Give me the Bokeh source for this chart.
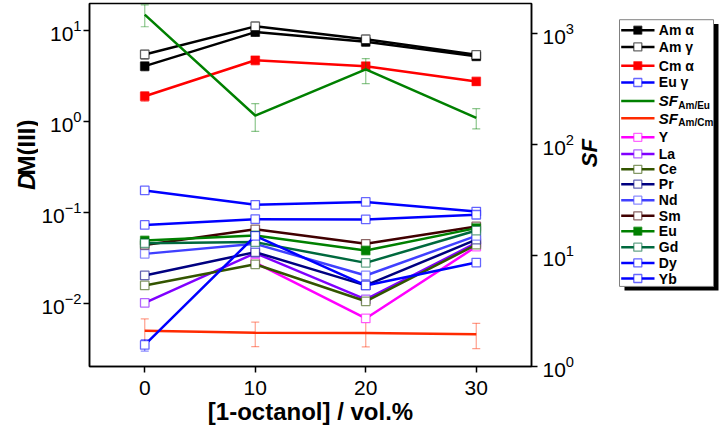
import math
from bokeh.plotting import figure
from bokeh.models import Range1d, LogScale, LogAxis, FixedTicker
from bokeh.layouts import row
from bokeh.embed import file_html
from bokeh.resources import INLINE
from bokeh.core.properties import value

NaN = float("nan")

# ---------------- data ----------------
vol = [0, 10, 20, 30]
x_ticks = [0, 10, 20, 30]
d_ticks = [0.01, 0.1, 1, 10]
sf_ticks = [1, 10, 100, 1000]

am_alpha = [4.05, 9.6, 7.5, 5.2]
am_alpha_err = [0.45, 1.0, 0.8, 0.5]
am_gamma = [5.45, 11.1, 8.0, 5.4]
am_gamma_err = [0.6, 1.3, 0.9, 0.5]
cm_alpha = [1.89, 4.7, 4.05, 2.75]
cm_alpha_err = [0.22, 0.5, 0.4, 0.25]
eu_gamma = [0.174, 0.121, 0.130, 0.102]
eu_gamma_err = [0.012, 0.008, 0.009, 0.009]
sf_am_eu = [1480, 182, 474, 174]
sf_am_eu_err = [330, 51, 120, 36]
sf_am_cm = [2.10, 2.01, 2.00, 1.95]
sf_am_cm_err = [0.58, 0.50, 0.50, 0.50]
d_y = [NaN, 0.028, 0.0068, 0.042]
d_y_err = [NaN, 0.002, 0.0006, 0.003]
d_la = [0.0101, 0.0355, 0.011, 0.046]
d_la_err = [0.0008, 0.0025, 0.0009, 0.003]
d_ce = [0.0157, 0.0268, 0.0105, 0.044]
d_ce_err = [0.0012, 0.002, 0.0008, 0.003]
d_pr = [0.0202, 0.0365, 0.0157, 0.050]
d_pr_err = [0.0015, 0.0025, 0.0012, 0.0035]
d_nd = [0.0349, 0.045, 0.0202, 0.055]
d_nd_err = [0.0025, 0.003, 0.0015, 0.004]
d_sm = [0.0438, 0.065, 0.045, 0.070]
d_sm_err = [0.003, 0.0045, 0.003, 0.005]
d_eu = [0.049, 0.0556, 0.038, 0.067]
d_eu_err = [0.0035, 0.004, 0.003, 0.005]
d_gd = [0.0457, 0.047, 0.0278, 0.063]
d_gd_err = [0.0032, 0.0033, 0.002, 0.0045]
d_dy = [0.00348, 0.055, 0.0157, 0.028]
d_dy_err = [0.0005, 0.004, 0.0012, 0.002]
d_yb = [0.0727, 0.084, 0.0835, 0.094]
d_yb_err = [0.005, 0.006, 0.006, 0.007]

# label, values, errors, colour, marker ("filled"/"open"/None), axis
series = [
    ("Am α", am_alpha, am_alpha_err, "#000000", "filled", "d"),
    ("Am γ", am_gamma, am_gamma_err, "#000000", "open", "d"),
    ("Cm α", cm_alpha, cm_alpha_err, "#FF0000", "filled", "d"),
    ("Eu γ", eu_gamma, eu_gamma_err, "#0000FF", "open", "d"),
    ("SF|Am/Eu", sf_am_eu, sf_am_eu_err, "#008000", None, "sf"),
    ("SF|Am/Cm", sf_am_cm, sf_am_cm_err, "#FF2A00", None, "sf"),
    ("Y", d_y, d_y_err, "#FF00FF", "open", "d"),
    ("La", d_la, d_la_err, "#8000FF", "open", "d"),
    ("Ce", d_ce, d_ce_err, "#335500", "open", "d"),
    ("Pr", d_pr, d_pr_err, "#000080", "open", "d"),
    ("Nd", d_nd, d_nd_err, "#4040FF", "open", "d"),
    ("Sm", d_sm, d_sm_err, "#400000", "open", "d"),
    ("Eu", d_eu, d_eu_err, "#008000", "filled", "d"),
    ("Gd", d_gd, d_gd_err, "#00693E", "open", "d"),
    ("Dy", d_dy, d_dy_err, "#0000FF", "open", "d"),
    ("Yb", d_yb, d_yb_err, "#0000FF", "open", "d"),
]

FONT = "Liberation Sans"
H = 432


def bare(fig):
    fig.xgrid.visible = False
    fig.ygrid.visible = False
    fig.outline_line_color = None
    fig.background_fill_color = "white"
    fig.border_fill_color = "white"


# ---------------- left title strip ----------------
LTW = 38
lt = figure(width=LTW, height=H, x_range=Range1d(0, LTW), y_range=Range1d(H, 0),
            toolbar_location=None, output_backend="svg", min_border=0,
            x_axis_location=None, y_axis_location=None)
bare(lt)
lt.text([25.5], [222], text=["D"], angle=math.pi / 2, text_font=value(FONT),
        text_font_size="24px", text_font_style="bold italic",
        text_align="left", text_baseline="middle", text_color="black")
lt.text([25.5], [222 - 17.3], text=["M(III)"], angle=math.pi / 2, text_font=value(FONT),
        text_font_size="24px", text_font_style="bold",
        text_align="left", text_baseline="middle", text_color="black")

# ---------------- main figure ----------------
MW = 539
p = figure(width=MW, height=H, x_range=Range1d(-5, 35),
           y_range=Range1d(0.002014, 19.8), y_axis_type="log",
           toolbar_location=None, output_backend="svg",
           min_border_left=89 - LTW, min_border_right=40,
           min_border_top=3, min_border_bottom=H - 366)
p.background_fill_color = "white"
p.border_fill_color = "white"
p.xgrid.visible = False
p.ygrid.visible = False
p.outline_line_color = "black"
p.outline_line_width = 1.5
p.outline_line_alpha = 1.0

p.extra_y_ranges = {"sf": Range1d(1, 1862)}
p.extra_y_scales = {"sf": LogScale()}

left_axis = p.yaxis[0]
left_axis.ticker = FixedTicker(ticks=d_ticks)
p.xaxis[0].ticker = FixedTicker(ticks=x_ticks)
sf_axis = LogAxis(y_range_name="sf", ticker=FixedTicker(ticks=sf_ticks))
p.add_layout(sf_axis, "right")

for ax in [p.xaxis[0], left_axis, sf_axis]:
    ax.axis_line_width = 1.5
    ax.axis_line_color = "black"
    ax.major_tick_line_width = 1.5
    ax.major_tick_line_color = "black"
    ax.major_tick_out = 6
    ax.major_tick_in = 0
    ax.minor_tick_line_color = None
    ax.major_label_text_font = FONT
    ax.major_label_text_font_size = "21px"
    ax.major_label_text_color = "black"
left_axis.major_label_standoff = 2
sf_axis.major_label_standoff = 5

xa = p.xaxis[0]
xa.major_label_standoff = 8
xa.axis_label = "[1-octanol] / vol.%"
xa.axis_label_text_font = FONT
xa.axis_label_text_font_size = "24px"
xa.axis_label_text_font_style = "bold"
xa.axis_label_text_color = "black"
xa.axis_label_standoff = 0

for (lab, vals, errs, color, mk, rng) in series:
    kw = {} if rng == "d" else {"y_range_name": "sf"}
    lower = [v - e for v, e in zip(vals, errs)]
    upper = [v + e for v, e in zip(vals, errs)]
    p.segment(x0=vol, y0=lower, x1=vol, y1=upper, line_color=color,
              line_alpha=0.45, line_width=1.2, **kw)
    p.scatter(vol, lower, marker="dash", size=8, line_color=color,
              line_alpha=0.45, line_width=1.2, **kw)
    p.scatter(vol, upper, marker="dash", size=8, line_color=color,
              line_alpha=0.45, line_width=1.2, **kw)
    p.line(vol, vals, line_color=color, line_width=2.5, **kw)
    if mk is not None:
        p.scatter(vol, vals, marker="square", size=8.5,
                  fill_color=color if mk == "filled" else "white",
                  line_color=color, line_alpha=0.6, line_width=1.3, **kw)

# ---------------- legend figure (with SF title) ----------------
LW = 720 - LTW - MW
lg = figure(width=LW, height=H, x_range=Range1d(0, LW), y_range=Range1d(H, 0),
            toolbar_location=None, output_backend="svg", min_border=0,
            x_axis_location=None, y_axis_location=None)
bare(lg)
x0 = LTW + MW  # page x of the legend strip's left edge

lg.text([589 - x0], [178], text=["SF"], angle=math.pi / 2, text_font=value(FONT),
        text_font_size="22px", text_font_style="bold italic",
        text_align="center", text_baseline="middle", text_color="black")

box_l, box_r, box_t, box_b = 619 - x0, 713 - x0, 19.3, 336.7
lg.quad(left=box_l + 5, right=box_r + 5, top=box_t + 5, bottom=box_b + 5,
        fill_color="black", line_color=None)
lg.quad(left=box_l, right=box_r, top=box_t, bottom=box_b,
        fill_color="white", line_color="#808080", line_width=1)

entry_y = [31.7, 51.7, 74, 94, 116, 136.7, 159.3, 179, 197.3, 215, 234,
           252.7, 271, 290, 308.7, 327.3]
lx0, lx1, mx, tx = 620.7 - x0, 654 - x0, 637.3 - x0, 658.3 - x0
for (lab, vals, errs, color, mk, rng), yy in zip(series, entry_y):
    lg.line([lx0, lx1], [yy, yy], line_color=color, line_width=2.5)
    if mk is not None:
        lg.scatter([mx], [yy], marker="square", size=8,
                   fill_color=color if mk == "filled" else "white",
                   line_color=color, line_alpha=0.6, line_width=1.3)
    if "|" in lab:
        main, sub = lab.split("|")
        lg.text([tx], [yy], text=[main], text_font=value(FONT),
                text_font_size="15px", text_font_style="bold italic",
                text_align="left", text_baseline="middle", text_color="black")
        lg.text([tx + 19.5], [yy + 5], text=[sub], text_font=value(FONT),
                text_font_size="10px", text_font_style="bold",
                text_align="left", text_baseline="middle", text_color="black")
    else:
        lg.text([tx], [yy], text=[lab], text_font=value(FONT),
                text_font_size="14px", text_font_style="bold",
                text_align="left", text_baseline="middle", text_color="black")

layout = row(lt, p, lg, spacing=0)
open("out.html", "w").write(file_html(layout, INLINE))
